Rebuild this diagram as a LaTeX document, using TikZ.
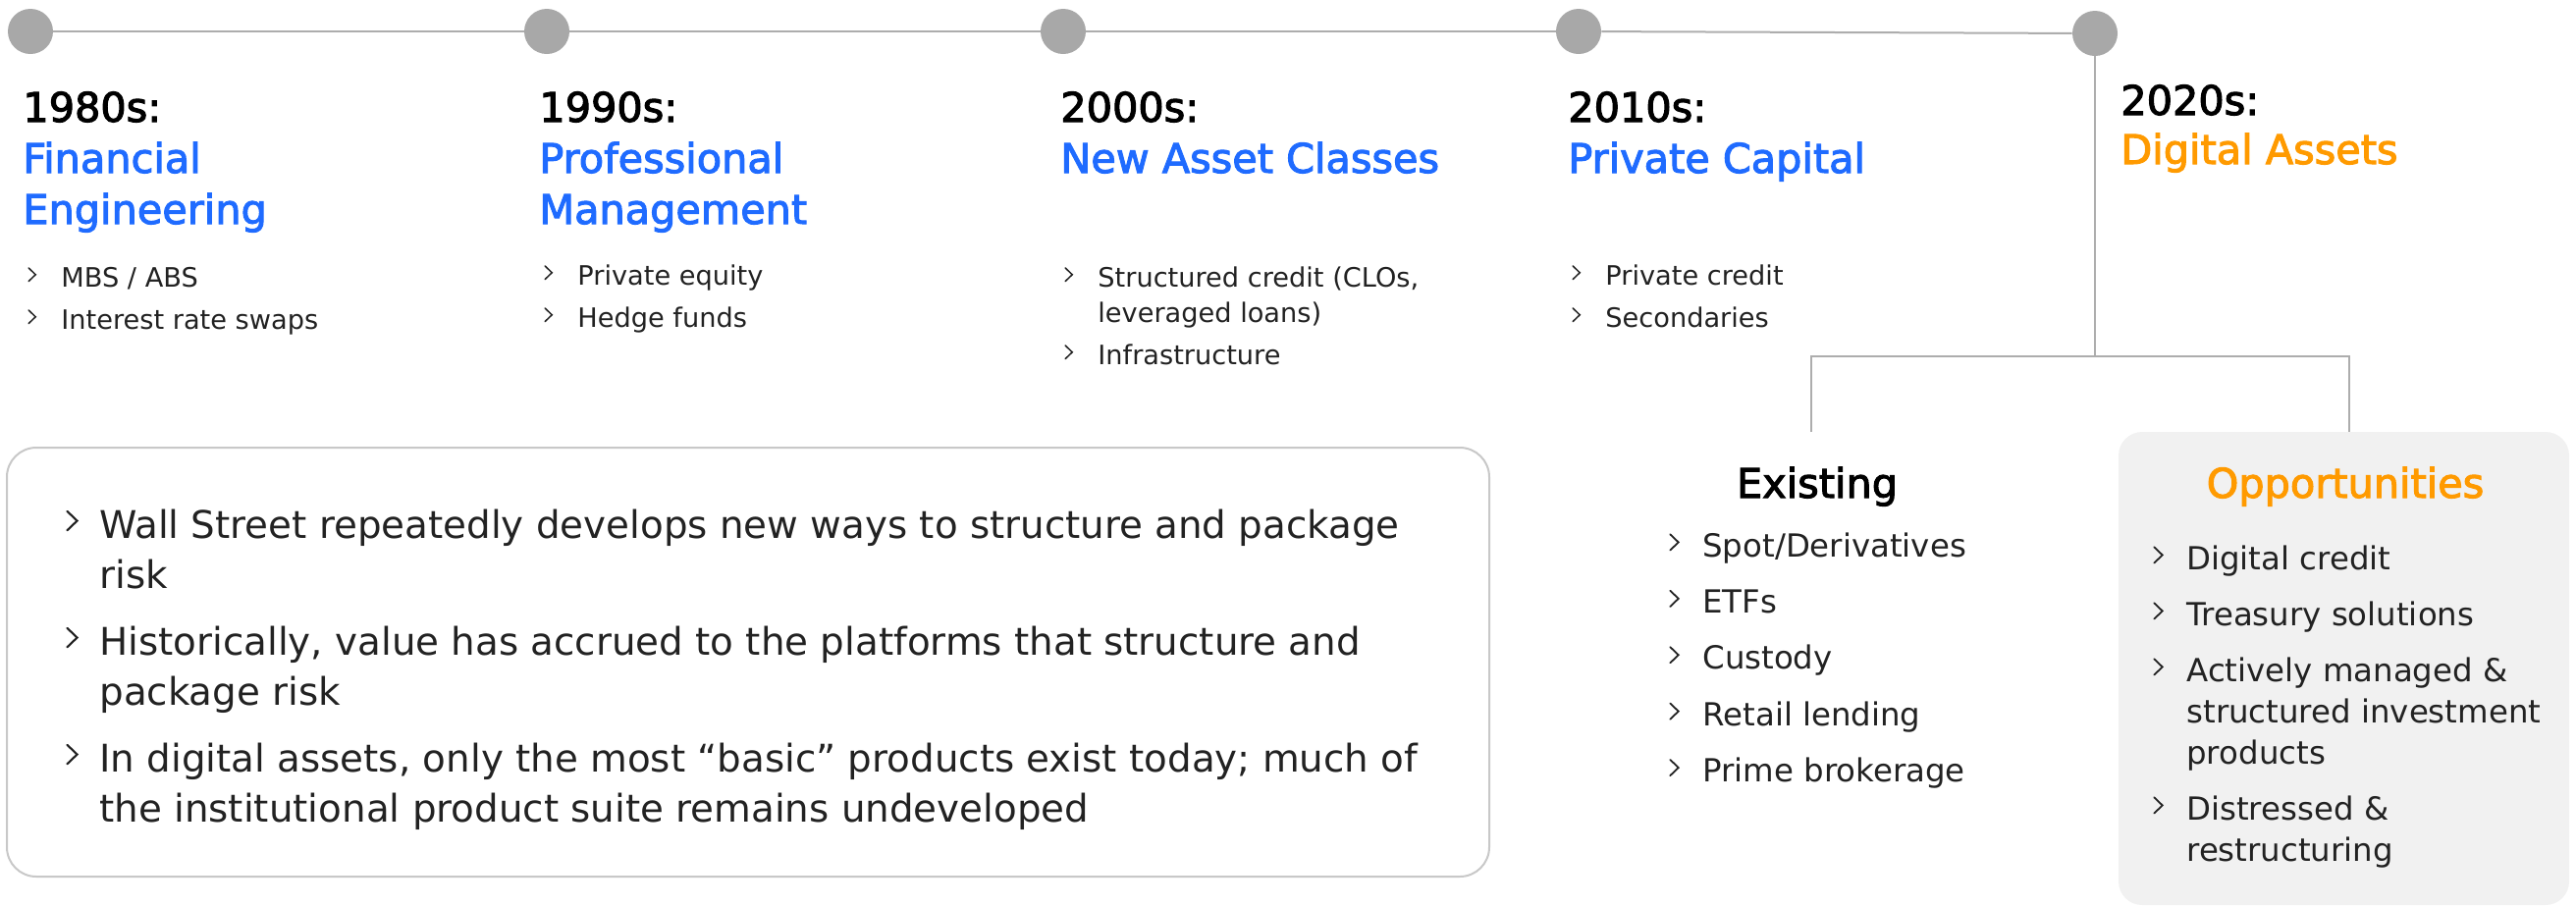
\documentclass[tikz,border=0pt]{standalone}
\usepackage{fontspec}
\setmainfont{DejaVu Sans}
\newfontfamily\headfont{DejaVu Sans}[FakeBold=2.5]

\definecolor{eraBlue}{HTML}{1F6BFF}
\definecolor{eraOrange}{HTML}{FF9A00}
\definecolor{dotGrey}{HTML}{A8A8A8}
\definecolor{lineGrey}{HTML}{ADADAD}
\definecolor{boxLine}{HTML}{C8C8C8}
\definecolor{boxFill}{HTML}{F1F1F1}
\definecolor{ink}{HTML}{222222}

% small chevron in front of each point
\newcommand{\chev}{\makebox[17pt][l]{\tikz[baseline=0pt]\draw[line width=0.055em,line cap=round] (0,0.7em)--(0.26em,0.45em)--(0,0.2em);}}

\begin{document}
\begin{tikzpicture}[x=0.5pt,y=-0.5pt,
    dot/.style={circle,fill=dotGrey,minimum size=23pt,inner sep=0pt},
    link/.style={draw=lineGrey,line width=1pt},
    era/.style={anchor=base west,inner sep=0pt,font=\headfont\fontsize{20.7}{26}\selectfont},
    subhead/.style={anchor=base,inner sep=0pt,font=\headfont\fontsize{20.7}{26}\selectfont},
    pts/.style={anchor=base west,inner sep=0pt,text=ink,font=\fontsize{13.6}{18}\selectfont},
    sidepts/.style={anchor=base west,inner sep=0pt,text=ink,font=\fontsize{16.2}{21}\selectfont},
    boxpts/.style={anchor=base west,inner sep=0pt,text=ink,font=\fontsize{19.4}{25.5}\selectfont}]
  \useasboundingbox (0,0) rectangle (2624,923);

  % boxes
  \draw[boxLine,line width=1pt,rounded corners=15pt] (7,456) rectangle (1517,893);
  \fill[boxFill,rounded corners=12pt] (2158,440) rectangle (2617,922);

  % timeline
      \node[dot] (d80) at (31,32) {};
      \node[dot] (d90) at (557,32) {};
      \node[dot] (d00) at (1083,32) {};
      \node[dot] (d10) at (1608,32) {};
      \node[dot] (d20) at (2134,34) {};
      \draw[link] (d80) -- (d90);
      \draw[link] (d90) -- (d00);
      \draw[link] (d00) -- (d10);
      \draw[link] (d10) -- (d20);

      \coordinate (fork) at (2134,363);
      \coordinate (forkL) at (1845,363);
      \coordinate (forkR) at (2393,363);
      \coordinate (exTop) at (1845,440);
      \coordinate (opTop) at (2393,440);
      \draw[link] (d20) -- (fork);
      \draw[link] (exTop) -- (forkL) -- (forkR) -- (opTop);

  % eras
      \node[era] (e80) at (23,124) {\begin{tabular}[t]{@{}l@{}}1980s:\\\color{eraBlue}Financial\\\color{eraBlue}Engineering\end{tabular}};
      \node[era] (e90) at (549,124) {\begin{tabular}[t]{@{}l@{}}1990s:\\\color{eraBlue}Professional\\\color{eraBlue}Management\end{tabular}};
      \node[era] (e00) at (1080,124) {\begin{tabular}[t]{@{}l@{}}2000s:\\\color{eraBlue}New Asset Classes\end{tabular}};
      \node[era] (e10) at (1597,124) {\begin{tabular}[t]{@{}l@{}}2010s:\\\color{eraBlue}Private Capital\end{tabular}};
      \node[era] (e20) at (2160,117) {\begin{tabular}[t]{@{}l@{}}2020s:\\[-1pt]\color{eraOrange}Digital Assets\end{tabular}};

      \node[pts] (p80) at (28,292) {\begin{tabular}[t]{@{}l@{}}\chev MBS / ABS\\[3.5pt]\chev Interest rate swaps\end{tabular}};
      \node[pts] (p90) at (554,290) {\begin{tabular}[t]{@{}l@{}}\chev Private equity\\[3.5pt]\chev Hedge funds\end{tabular}};
      \node[pts] (p00) at (1084,292) {\begin{tabular}[t]{@{}l@{}}\chev Structured credit (CLOs,\\\hspace*{17pt}leveraged loans)\\[3.5pt]\chev Infrastructure\end{tabular}};
      \node[pts] (p10) at (1601,290) {\begin{tabular}[t]{@{}l@{}}\chev Private credit\\[3.5pt]\chev Secondaries\end{tabular}};

  % digital assets today and tomorrow
      \node[subhead] (exHead) at (1851,507) {Existing};
      \node[sidepts] (exPts) at (1700,567) {\begin{tabular}[t]{@{}l@{}}\chev Spot/Derivatives\\[7.7pt]\chev ETFs\\[7.7pt]\chev Custody\\[7.7pt]\chev Retail lending\\[7.7pt]\chev Prime brokerage\end{tabular}};
      \node[subhead,text=eraOrange] (opHead) at (2389,507) {Opportunities};
      \node[sidepts] (opPts) at (2193,580) {\begin{tabular}[t]{@{}l@{}}\chev Digital credit\\[7.5pt]\chev Treasury solutions\\[7.5pt]\chev Actively managed \&\\\hspace*{17pt}structured investment\\\hspace*{17pt}products\\[7.5pt]\chev Distressed \&\\\hspace*{17pt}restructuring\end{tabular}};

  % takeaways
      \node[boxpts] (riskPts) at (67,548) {\begin{tabular}[t]{@{}l@{}}\chev Wall Street repeatedly develops new ways to structure and package\\\hspace*{17pt}risk\\[8.5pt]\chev Historically, value has accrued to the platforms that structure and\\\hspace*{17pt}package risk\\[8.5pt]\chev In digital assets, only the most “basic” products exist today; much of\\\hspace*{17pt}the institutional product suite remains undeveloped\end{tabular}};
\end{tikzpicture}
\end{document}
